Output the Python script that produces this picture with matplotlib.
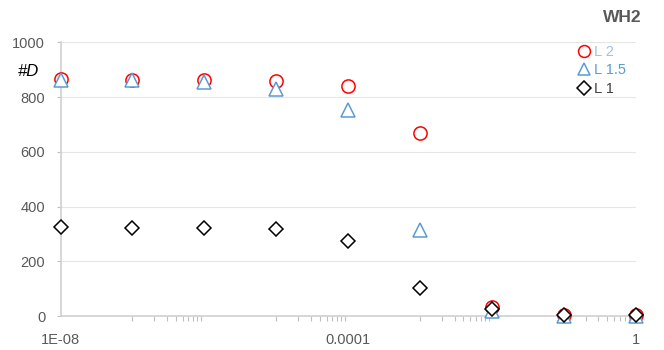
import numpy as np
import matplotlib.pyplot as plt
from matplotlib.ticker import FixedLocator, NullFormatter

plt.rcParams['font.family'] = ['Liberation Sans', 'DejaVu Sans']

# data
x = [1e-8, 1e-7, 1e-6, 1e-5, 1e-4, 1e-3, 1e-2, 1e-1, 1]
l2 = [865, 862, 862, 860, 840, 670, 34, 3, 3]
l15 = [861, 861, 855, 830, 752, 314, 18, 0, 0]
l1 = [324, 322, 320, 317, 273, 101, 24, 2, 2]

x_ticks = [1e-8, 1e-4, 1]
x_labels = ['1E-08', '0.0001', '1']
y_ticks = [0, 200, 400, 600, 800, 1000]

fig = plt.figure(figsize=(6.64, 3.5), dpi=100)
ax = fig.add_axes([60.5 / 664, 1 - 316 / 350, (636 - 60.5) / 664, (316 - 42.3) / 350])

ax.plot(x, l2, 'o', ms=9.5, mfc='white', mec='#FF0000', mew=1.1, clip_on=False, label='L 2', zorder=3)
ax.plot(x, l15, '^', ms=10, mfc='white', mec='#5B9BD5', mew=1.1, clip_on=False, label='L 1.5', zorder=4)
ax.plot(x, l1, 'D', ms=7.5, mfc='white', mec='black', mew=1.1, clip_on=False, label='L 1', zorder=5)

ax.set_xscale('log')
ax.set_xlim(1e-8, 1)
ax.set_ylim(0, 1000)

ax.xaxis.set_major_locator(FixedLocator(x_ticks))
ax.set_xticklabels(x_labels)
minors = [k * 10.0 ** e for e in [-7, -5, -3, -1] for k in range(1, 10)]
ax.xaxis.set_minor_locator(FixedLocator(minors))
ax.xaxis.set_minor_formatter(NullFormatter())
ax.set_yticks(y_ticks)

ax.tick_params(axis='x', which='major', length=0, pad=12, labelsize=10.5, labelcolor='#595959')
ax.tick_params(axis='x', which='minor', length=3.5, width=0.8, color='#BFBFBF', direction='out')
ax.tick_params(axis='y', length=3, width=0.8, color='#BFBFBF', pad=8, labelsize=10.5, labelcolor='#595959')

for s in ['top', 'right']:
    ax.spines[s].set_visible(False)
for s in ['left', 'bottom']:
    ax.spines[s].set_color('#D0D0D0')
    ax.spines[s].set_linewidth(1.2)

ax.grid(axis='y', color='#E6E6E6', lw=0.8)
ax.set_axisbelow(True)

fig.text(39 / 664, 1 - 71 / 350, '#D', ha='right', va='center', fontsize=12, style='italic', color='black')
fig.text(642 / 664, 1 - 18 / 350, 'WH2', ha='right', va='center', fontsize=12.5, fontweight='bold', color='#595959')

leg = ax.legend(loc='upper left', bbox_to_anchor=(578 / 664, 1 - 45 / 350), bbox_transform=fig.transFigure,
                frameon=False, fontsize=10.5, handlelength=0.8, handletextpad=0.3, labelspacing=0.3,
                borderpad=0, borderaxespad=0, markerscale=0.9)
for t, c in zip(leg.get_texts(), ['#9DC3E6', '#5B9BD5', '#404040']):
    t.set_color(c)

fig.savefig('out.png', dpi=100)
